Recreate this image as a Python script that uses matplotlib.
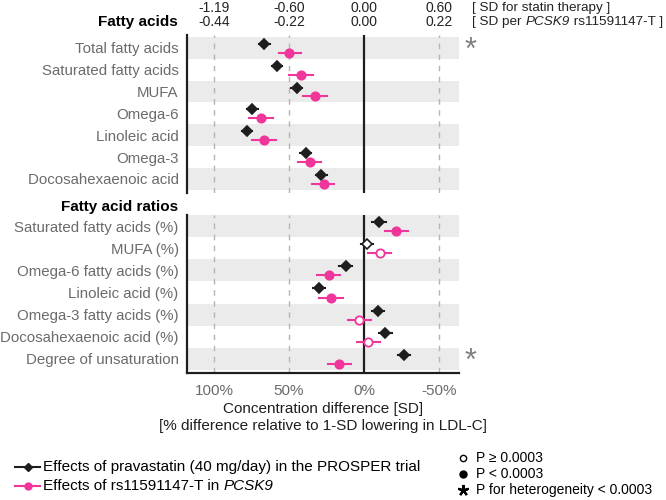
import matplotlib.pyplot as plt
from matplotlib import transforms

plt.rcParams['font.family'] = ['Liberation Sans', 'DejaVu Sans']

# data: % difference relative to 1-SD lowering in LDL-C
fa_labels = ["Total fatty acids", "Saturated fatty acids", "MUFA", "Omega-6",
             "Linoleic acid", "Omega-3", "Docosahexaenoic acid"]
fa_statin = [66.7, 58, 45, 74.4, 78, 39, 28.7]
fa_statin_lo = [63, 54.5, 41.5, 71, 74.5, 35.5, 25]
fa_statin_hi = [70, 61.5, 48.5, 78, 81.5, 42.5, 32]
fa_pcsk9 = [49.8, 42, 33, 68.7, 67, 36, 27]
fa_pcsk9_lo = [42, 34, 25, 61, 59, 29, 20]
fa_pcsk9_hi = [57, 50, 40.4, 76.4, 75, 44, 34.7]
fa_statin_sig = [True] * 7
fa_pcsk9_sig = [True] * 7
fa_het = [True, False, False, False, False, False, False]

rt_labels = ["Saturated fatty acids (%)", "MUFA (%)", "Omega-6 fatty acids (%)",
             "Linoleic acid (%)", "Omega-3 fatty acids (%)",
             "Docosahexaenoic acid (%)", "Degree of unsaturation"]
rt_statin = [-10, -2, 12.4, 30.2, -9.1, -14.2, -26.4]
rt_statin_lo = [-14.5, -6, 8.2, 26, -13, -18.5, -30.5]
rt_statin_hi = [-5.5, 2, 16.7, 34, -5, -10, -22.5]
rt_pcsk9 = [-21.3, -10.4, 23.3, 22.2, 3.3, -2.9, 16.7]
rt_pcsk9_lo = [-29, -18, 15.8, 14.4, -4.4, -10.7, 8.7]
rt_pcsk9_hi = [-13.6, -2.4, 31.3, 30, 11, 4.7, 24.4]
rt_statin_sig = [True, False, True, True, True, True, True]
rt_pcsk9_sig = [True, False, True, True, False, False, True]
rt_het = [False, False, False, False, False, False, True]

grid_pct = [100, 50, -50]
bottom_ticks = [100, 50, 0, -50]
bottom_ticklabels = ["100%", "50%", "0%", "-50%"]
statin_sd = ["-1.19", "-0.60", "0.00", "0.60"]
pcsk9_sd = ["-0.44", "-0.22", "0.00", "0.22"]

BLACK = "#1e1e1e"
PINK = "#f0359b"
LABEL = "#6b6b6b"
BAND = "#ebebeb"

W, H = 666, 500
fig = plt.figure(figsize=(6.66, 5), dpi=100)


def px_axes(x0, y0, x1, y1):
    return fig.add_axes([x0 / W, 1 - y1 / H, (x1 - x0) / W, (y1 - y0) / H])


def panel(ax, labels, s, s_lo, s_hi, p, p_lo, p_hi, s_sig, p_sig, het, ylim):
    n = len(labels)
    for i in range(n):
        if i % 2 == 0:
            ax.axhspan(i - 0.5, i + 0.5, color=BAND, lw=0, zorder=0)
    for g in grid_pct:
        ax.axvline(g, color="#b5b5b5", lw=1, ls=(0, (4, 4)), zorder=1)
    ax.axvline(0, color=BLACK, lw=1.6, zorder=2)
    for i in range(n):
        yb, yp = i - 0.18, i + 0.23
        ax.plot([s_lo[i], s_hi[i]], [yb, yb], color=BLACK, lw=1.5, zorder=3)
        ax.plot(s[i], yb, marker="D", ms=5, mec=BLACK, mew=1.2,
                mfc=BLACK if s_sig[i] else "white", zorder=4)
        ax.plot([p_lo[i], p_hi[i]], [yp, yp], color=PINK, lw=1.5, zorder=3)
        ax.plot(p[i], yp, marker="o", ms=6, mec=PINK, mew=1.3,
                mfc=PINK if p_sig[i] else "white", zorder=4)
        if het[i]:
            ax.text(-71, i + 0.15, "*", color="#808080", fontsize=22,
                    ha="center", va="center", clip_on=False)
    ax.set_xlim(118, -63)
    ax.set_ylim(*ylim)
    ax.set_yticks(range(n))
    ax.set_yticklabels(labels, color=LABEL, fontsize=10.8)
    ax.tick_params(axis="y", length=0, pad=6)
    for sp in ["top", "right", "bottom"]:
        ax.spines[sp].set_visible(False)
    ax.spines["left"].set_color(BLACK)
    ax.spines["left"].set_linewidth(1.6)


ax1 = px_axes(187, 35, 458.7, 193)
panel(ax1, fa_labels, fa_statin, fa_statin_lo, fa_statin_hi,
      fa_pcsk9, fa_pcsk9_lo, fa_pcsk9_hi, fa_statin_sig, fa_pcsk9_sig, fa_het,
      (6.64, -0.58))
ax1.set_xticks([])

ax2 = px_axes(187, 215, 458.7, 373)
panel(ax2, rt_labels, rt_statin, rt_statin_lo, rt_statin_hi,
      rt_pcsk9, rt_pcsk9_lo, rt_pcsk9_hi, rt_statin_sig, rt_pcsk9_sig, rt_het,
      (6.64, -0.5))
ax2.spines["bottom"].set_visible(True)
ax2.spines["bottom"].set_color(BLACK)
ax2.spines["bottom"].set_linewidth(1.6)
ax2.set_xticks(bottom_ticks)
ax2.set_xticklabels(bottom_ticklabels, color=LABEL, fontsize=11)
ax2.tick_params(axis="x", length=0, pad=8)
ax2.set_xlabel("Concentration difference [SD]\n"
               "[% difference relative to 1-SD lowering in LDL-C]",
               fontsize=11, color=BLACK, labelpad=3, linespacing=1.25)

# section headers
fig.text(178 / W, 1 - 22 / H, "Fatty acids", fontsize=11, fontweight="bold",
         ha="right", va="center", color="black")
fig.text(178 / W, 1 - 207 / H, "Fatty acid ratios", fontsize=11,
         fontweight="bold", ha="right", va="center", color="black")

# top SD scales
tr = transforms.blended_transform_factory(ax1.transData, fig.transFigure)
for pos, a, b in zip(bottom_ticks, statin_sd, pcsk9_sd):
    ax1.text(pos, 1 - 8 / H, a, transform=tr, ha="center", va="center",
             fontsize=10, color="#222222")
    ax1.text(pos, 1 - 22 / H, b, transform=tr, ha="center", va="center",
             fontsize=10, color="#222222")
fig.text(472 / W, 1 - 8 / H, "[ SD for statin therapy ]", fontsize=9.7,
         ha="left", va="center", color="#222222")
t1 = fig.text(472 / W, 1 - 22 / H, "[ SD per ", fontsize=9.7,
              ha="left", va="center", color="#222222")
a2 = fig.text(0, 0, "")
a2 = plt.annotate("PCSK9", xy=(1, 0), xycoords=t1, va="bottom", ha="left",
                  fontsize=9.7, style="italic", color="#222222")
plt.annotate(" rs11591147-T ]", xy=(1, 0), xycoords=a2, va="bottom",
             ha="left", fontsize=9.7, color="#222222")

# legend (series)
lg = fig.add_axes([0, 0, 1, 1], facecolor="none")
lg.set_xlim(0, W)
lg.set_ylim(H, 0)
lg.axis("off")
lg.plot([15, 40], [467, 467], color=BLACK, lw=1.5)
lg.plot(27.5, 467, marker="D", ms=4.5, color=BLACK)
lg.text(43, 467, "Effects of pravastatin (40 mg/day) in the PROSPER trial",
        fontsize=11, va="center", color="black")
lg.plot([15, 40], [486, 486], color=PINK, lw=1.5)
lg.plot(27.5, 486, marker="o", ms=5, color=PINK)
lt = lg.text(43, 486, "Effects of rs11591147-T in ",
             fontsize=11, va="center", color="black")
lg.annotate("PCSK9", xy=(1, 0), xycoords=lt, va="bottom", ha="left",
            fontsize=11, style="italic", color="black")

# legend (symbols)
lg.plot(463, 458, marker="o", ms=4.5, mfc="white", mec="black", mew=1)
lg.text(476, 458, "P \u2265 0.0003", fontsize=10, va="center")
lg.plot(463, 474, marker="o", ms=5, color="black")
lg.text(476, 474, "P < 0.0003", fontsize=10, va="center")
lg.plot(463, 490, marker=(5, 2, 0), ms=8, mew=1.6, color="black")
lg.text(476, 490, "P for heterogeneity < 0.0003", fontsize=10, va="center")

fig.savefig("out.png", dpi=100)
